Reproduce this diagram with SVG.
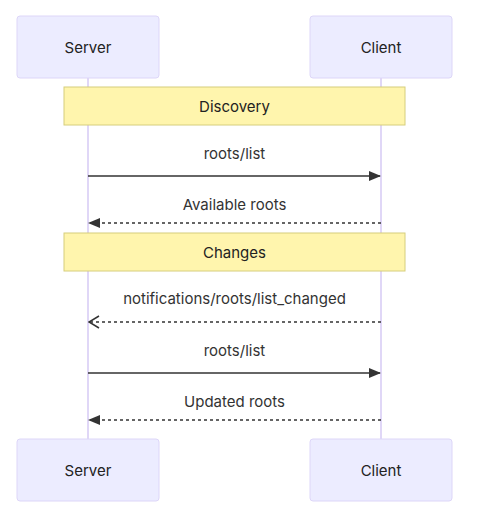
<svg xmlns="http://www.w3.org/2000/svg" width="488" height="522" viewBox="0 0 488 522">
<defs>
<style>
.actor{fill:#ECECFF;stroke:#ddd6f8;stroke-width:1}
.atext{font-family:Inter,"Liberation Sans",sans-serif;font-size:15px;fill:#222;text-anchor:middle;dominant-baseline:central}
.life{stroke:#cfc2f3;stroke-width:1.3}
.note{fill:#fff5ad;stroke:#d6ce7c;stroke-width:1}
.ntext{font-family:Inter,"Liberation Sans",sans-serif;font-size:15px;fill:#222;text-anchor:middle;dominant-baseline:central}
.mtext{font-family:Inter,"Liberation Sans",sans-serif;font-size:15px;fill:#333;text-anchor:middle;dominant-baseline:central}
.msg{stroke:#333;stroke-width:1.5;fill:none}
.dash{stroke-dasharray:3,3}
</style>
<marker id="solidHead" viewBox="0 0 12 12" refX="11" refY="6" markerWidth="12" markerHeight="12" markerUnits="userSpaceOnUse" orient="auto">
<path d="M0,1 L12,6 L0,11 z" fill="#333"/>
</marker>
<marker id="openHead" viewBox="0 0 12 14" refX="11" refY="7" markerWidth="12" markerHeight="14" markerUnits="userSpaceOnUse" orient="auto">
<path d="M1,1 L11,7 L1,13" fill="none" stroke="#333" stroke-width="1.5"/>
</marker>
</defs>
<rect width="488" height="522" fill="#fff"/>
<g id="lifelines">
<line class="life" x1="88" y1="78" x2="88" y2="439"/>
<line class="life" x1="381" y1="78" x2="381" y2="439"/>
</g>
<g id="server-top"><rect class="actor" x="17" y="16" width="142" height="62" rx="3"/><text class="atext" x="88" y="47">Server</text></g>
<g id="client-top"><rect class="actor" x="310" y="16" width="142" height="62" rx="3"/><text class="atext" x="381" y="47">Client</text></g>
<g id="note-discovery"><rect class="note" x="64" y="87" width="341" height="38"/><text class="ntext" x="234.5" y="106">Discovery</text></g>
<g id="note-changes"><rect class="note" x="64" y="233" width="341" height="38"/><text class="ntext" x="234.5" y="252">Changes</text></g>
<g id="connectors">
<text class="mtext" x="234.5" y="153">roots/list</text>
<line class="msg" x1="88" y1="176" x2="380" y2="176" marker-end="url(#solidHead)"/>
<text class="mtext" x="234.5" y="204">Available roots</text>
<line class="msg dash" x1="381" y1="223" x2="89" y2="223" marker-end="url(#solidHead)"/>
<text class="mtext" x="234.5" y="298">notifications/roots/list_changed</text>
<line class="msg dash" x1="381" y1="322" x2="89" y2="322" marker-end="url(#openHead)"/>
<text class="mtext" x="234.5" y="350">roots/list</text>
<line class="msg" x1="88" y1="373" x2="380" y2="373" marker-end="url(#solidHead)"/>
<text class="mtext" x="234.5" y="401">Updated roots</text>
<line class="msg dash" x1="381" y1="420" x2="89" y2="420" marker-end="url(#solidHead)"/>
</g>
<g id="server-bottom"><rect class="actor" x="17" y="439" width="142" height="62" rx="3"/><text class="atext" x="88" y="470">Server</text></g>
<g id="client-bottom"><rect class="actor" x="310" y="439" width="142" height="62" rx="3"/><text class="atext" x="381" y="470">Client</text></g>
</svg>
